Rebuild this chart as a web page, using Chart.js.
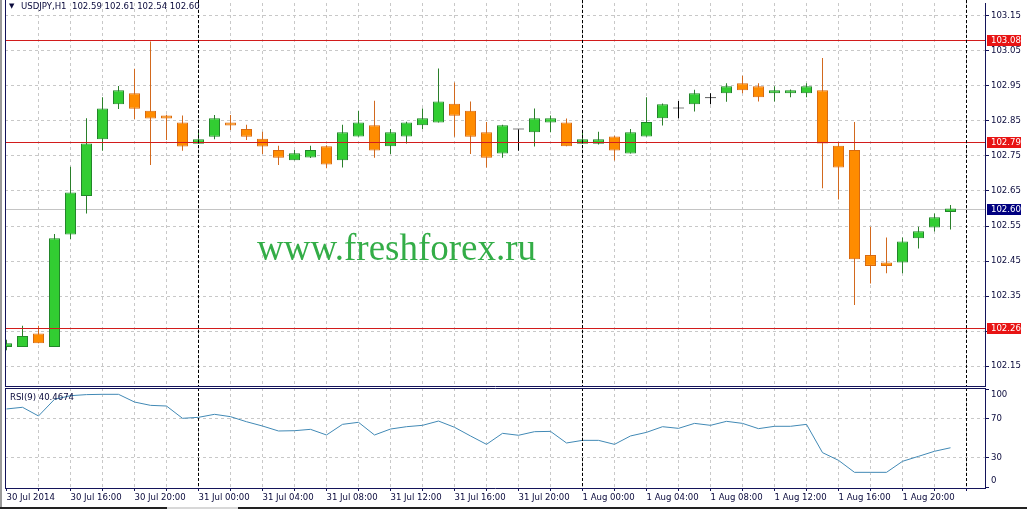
<!DOCTYPE html>
<html>
<head>
<meta charset="utf-8">
<title>USDJPY,H1</title>
<script src="https://cdn.jsdelivr.net/npm/chart.js@4.4.1/dist/chart.umd.min.js"></script>
<style>
  html, body { margin: 0; padding: 0; background: #fff; }
  #wrap { position: relative; width: 1027px; height: 509px; overflow: hidden; background: #fff; }
  canvas { position: absolute; left: 0; }
  #main { top: 0; }
  #rsi { top: 387px; }
  .txt { position: absolute; white-space: pre; color: #0a0a3c;
         font-family: 'DejaVu Sans Condensed', 'Liberation Sans', sans-serif; font-size: 9.5px; line-height: 12px; }
  #tri { left: 9px; top: 0; font-family: 'DejaVu Sans', sans-serif; font-size: 7px; }
  #head { left: 21px; top: 0; }
  #rsiLabel { left: 10px; top: 391px; }
  #mark { position: absolute; left: 257px; top: 229px; white-space: pre; color: #33ad47;
          font-family: 'Liberation Serif', 'Times New Roman', serif; font-size: 37px; line-height: 37px; }
  #edgeL { position: absolute; left: 0; top: 0; width: 2px; height: 509px; background: #9a9a9a; }
  #edgeB { position: absolute; left: 0; top: 507px; width: 1027px; height: 2px; background: #222; }
  #edgeTab { position: absolute; left: 167px; top: 507px; width: 71px; height: 2px; background: #d8d8d8; }
</style>
</head>
<body>
<div id="wrap">
  <canvas id="main" width="1027" height="387"></canvas>
  <canvas id="rsi" width="1027" height="122"></canvas>
  <div class="txt" id="tri">▼</div>
  <div class="txt" id="head">USDJPY,H1  102.59 102.61 102.54 102.60</div>
  <div class="txt" id="rsiLabel">RSI(9) 40.4674</div>
  <div id="mark">www.freshforex.ru</div>
  <div id="edgeL"></div>
  <div id="edgeB"></div>
  <div id="edgeTab"></div>
</div>
<script>
// hourly bars, 30 Jul 2014 12:00 .. 1 Aug 2014 23:00
const opens = [
  102.204, 102.204, 102.243, 102.204, 102.526, 102.636, 102.798, 102.898, 102.929, 102.879,
  102.866, 102.846, 102.785, 102.805, 102.846, 102.827, 102.799, 102.767, 102.738, 102.746,
  102.778, 102.738, 102.806, 102.838, 102.778, 102.806, 102.838, 102.846, 102.899, 102.879,
  102.818, 102.757, 102.826, 102.818, 102.846, 102.846, 102.785, 102.785, 102.806, 102.757,
  102.806, 102.858, 102.886, 102.898, 102.915, 102.929, 102.958, 102.949, 102.929, 102.929,
  102.929, 102.938, 102.779, 102.767, 102.467, 102.446, 102.446, 102.515, 102.546, 102.590
];
const highs = [
  102.225, 102.265, 102.265, 102.527, 102.719, 102.858, 102.918, 102.950, 102.999, 103.077,
  102.868, 102.866, 102.826, 102.867, 102.867, 102.839, 102.819, 102.779, 102.767, 102.779,
  102.781, 102.839, 102.879, 102.908, 102.827, 102.848, 102.886, 103.000, 102.960, 102.906,
  102.847, 102.839, 102.826, 102.886, 102.866, 102.857, 102.819, 102.819, 102.808, 102.827,
  102.918, 102.900, 102.907, 102.939, 102.929, 102.958, 102.979, 102.958, 102.949, 102.940,
  102.958, 103.030, 102.788, 102.847, 102.548, 102.517, 102.517, 102.548, 102.586, 102.610
];
const lows = [
  102.195, 102.204, 102.215, 102.204, 102.513, 102.586, 102.765, 102.884, 102.856, 102.724,
  102.796, 102.765, 102.785, 102.798, 102.824, 102.796, 102.756, 102.724, 102.738, 102.744,
  102.715, 102.717, 102.806, 102.745, 102.756, 102.786, 102.827, 102.846, 102.805, 102.756,
  102.717, 102.745, 102.765, 102.777, 102.818, 102.778, 102.785, 102.783, 102.737, 102.757,
  102.806, 102.837, 102.858, 102.877, 102.898, 102.905, 102.929, 102.906, 102.906, 102.918,
  102.918, 102.658, 102.626, 102.324, 102.386, 102.415, 102.415, 102.486, 102.534, 102.540
];
const closes = [
  102.215, 102.236, 102.215, 102.515, 102.646, 102.786, 102.886, 102.938, 102.885, 102.857,
  102.857, 102.777, 102.798, 102.858, 102.837, 102.805, 102.777, 102.745, 102.758, 102.767,
  102.726, 102.818, 102.846, 102.766, 102.818, 102.846, 102.858, 102.906, 102.865, 102.805,
  102.745, 102.838, 102.826, 102.858, 102.858, 102.778, 102.798, 102.798, 102.766, 102.818,
  102.847, 102.898, 102.886, 102.929, 102.915, 102.949, 102.938, 102.918, 102.938, 102.938,
  102.949, 102.786, 102.717, 102.455, 102.436, 102.436, 102.506, 102.535, 102.575, 102.600
];
const rsi = [
  80.3, 82.0, 73.1, 90.2, 93.9, 95.0, 95.3, 95.3, 87.4, 84.0,
  83.3, 70.7, 71.7, 74.8, 72.4, 67.2, 62.8, 57.7, 58.0, 59.4,
  53.6, 64.5, 66.6, 53.6, 59.7, 62.1, 63.5, 67.9, 61.5, 52.6,
  44.0, 55.3, 53.3, 57.0, 57.3, 45.4, 48.1, 48.1, 44.0, 52.6,
  56.3, 62.1, 60.4, 65.5, 63.5, 67.6, 65.5, 60.1, 62.5, 62.5,
  64.5, 35.5, 27.6, 15.3, 15.3, 15.3, 26.6, 31.7, 36.9, 40.5
];
const timeLabels = ['30 Jul 2014', '30 Jul 16:00', '30 Jul 20:00', '31 Jul 00:00', '31 Jul 04:00',
  '31 Jul 08:00', '31 Jul 12:00', '31 Jul 16:00', '31 Jul 20:00', '1 Aug 00:00', '1 Aug 04:00',
  '1 Aug 08:00', '1 Aug 12:00', '1 Aug 16:00', '1 Aug 20:00'];
const priceTicks = [102.15, 102.25, 102.35, 102.45, 102.55, 102.65, 102.75, 102.85, 102.95, 103.05, 103.15];
const rsiTicks = [0, 30, 70, 100];
const levels = [103.08, 102.79, 102.26];
const bidPrice = 102.60;
const daySeparators = [12, 36, 60];

// view window (16px per bar)
const X_MIN = -0.09375, X_MAX = 61.15625;
const Y_MIN = 102.0929, Y_MAX = 103.1871;
const RSI_MIN = -0.77, RSI_MAX = 101.79;

const FRAME = '#14145a';
const GRID = '#c8c8c8';
const TEXT = '#0a0a3c';
const FONT = { family: "'DejaVu Sans Condensed', 'Liberation Sans', sans-serif", size: 9.5 };
const FONT_CSS = "9.5px 'DejaVu Sans Condensed', 'Liberation Sans', sans-serif";

const idx = opens.map((_, i) => i);
const gridIdx = idx.concat([60]).filter((i) => i % 2 === 0);
const kind = idx.map((i) => closes[i] > opens[i] ? 1 : closes[i] < opens[i] ? -1 : 0);
const bodyFill = kind.map((k) => k > 0 ? '#32cd32' : k < 0 ? '#ff8c00' : '#000000');
const bodyEdge = kind.map((k) => k > 0 ? '#22862a' : k < 0 ? '#d86a10' : '#000000');
const wickColor = kind.map((k) => k > 0 ? '#2a7f2a' : k < 0 ? '#d2691e' : '#000000');

function vGridColor(ctx) {
  return ctx.tick && ctx.tick.value === 0 ? 'rgba(0,0,0,0)' : GRID;
}

// keep the plot area exactly where the layout padding puts it
function noLabelPadding(s) {
  s.paddingTop = 0;
  s.paddingBottom = 0;
  s.paddingLeft = 0;
  s.paddingRight = 0;
}

function dashedV(ctx, x, y0, y1) {
  ctx.save();
  ctx.strokeStyle = '#000';
  ctx.lineWidth = 1;
  ctx.setLineDash([3, 2]);
  ctx.beginPath();
  ctx.moveTo(x, y0);
  ctx.lineTo(x, y1);
  ctx.stroke();
  ctx.restore();
}

function line(ctx, x0, y0, x1, y1, color) {
  ctx.save();
  ctx.strokeStyle = color;
  ctx.lineWidth = 1;
  ctx.setLineDash([]);
  ctx.beginPath();
  ctx.moveTo(x0, y0);
  ctx.lineTo(x1, y1);
  ctx.stroke();
  ctx.restore();
}

function priceBox(ctx, y, text, bg) {
  ctx.save();
  ctx.fillStyle = bg;
  ctx.fillRect(987, Math.round(y) - 5, 34, 11);
  ctx.fillStyle = '#fff';
  ctx.font = FONT_CSS;
  ctx.textBaseline = 'middle';
  ctx.fillText(text, 991, Math.round(y) + 0.5);
  ctx.restore();
}

const mainDecor = {
  id: 'mainDecor',
  beforeDatasetsDraw(chart) {
    const { ctx, chartArea: a, scales: { y } } = chart;
    const by = Math.round(y.getPixelForValue(bidPrice)) + 0.5;
    line(ctx, a.left, by, a.right, by, '#c4c4c4');
  },
  afterDraw(chart) {
    const { ctx, chartArea: a, scales: { x, y } } = chart;
    levels.forEach((v) => {
      const py = Math.round(y.getPixelForValue(v)) + 0.5;
      line(ctx, a.left, py, a.right, py, '#d21c1c');
    });
    daySeparators.forEach((d) => {
      const px = Math.round(x.getPixelForValue(d) - 0.5) + 0.5;
      dashedV(ctx, px, 0, a.bottom);
    });
    line(ctx, a.left + 0.5, 0, a.left + 0.5, a.bottom + 1, FRAME);
    levels.forEach((v) => priceBox(ctx, y.getPixelForValue(v), v.toFixed(2), '#e81414'));
    priceBox(ctx, y.getPixelForValue(bidPrice), bidPrice.toFixed(2), '#000080');
  }
};

const rsiDecor = {
  id: 'rsiDecor',
  afterDraw(chart) {
    const { ctx, chartArea: a, scales: { x, y } } = chart;
    daySeparators.forEach((d) => {
      const px = Math.round(x.getPixelForValue(d) - 0.5) + 0.5;
      dashedV(ctx, px, a.top, a.bottom);
    });
    line(ctx, a.left + 0.5, a.top, a.left + 0.5, a.bottom + 1, FRAME);
    line(ctx, a.left, a.top + 0.5, a.right + 1, a.top + 0.5, FRAME);
    ctx.save();
    ctx.fillStyle = TEXT;
    ctx.font = FONT_CSS;
    ctx.textBaseline = 'middle';
    rsiTicks.forEach((v) => {
      const py = Math.min(Math.max(y.getPixelForValue(v), a.top + 7), a.bottom - 7);
      ctx.fillText(String(v), a.right + 6, py);
    });
    ctx.restore();
  }
};

new Chart(document.getElementById('main'), {
  type: 'bar',
  data: {
    datasets: [
      {
        label: 'body',
        data: idx.map((i) => ({ x: i, y: [opens[i], closes[i]] })),
        backgroundColor: bodyFill,
        borderColor: bodyEdge,
        borderWidth: 1,
        borderSkipped: false,
        grouped: false,
        maxBarThickness: 11,
        minBarLength: 1,
        inflateAmount: 0,
        order: 1
      },
      {
        label: 'wick',
        data: idx.map((i) => ({ x: i, y: [lows[i], highs[i]] })),
        backgroundColor: wickColor,
        borderWidth: 0,
        grouped: false,
        maxBarThickness: 1,
        inflateAmount: 0,
        order: 2
      }
    ]
  },
  options: {
    responsive: false,
    animation: false,
    events: [],
    layout: { padding: { left: 5, top: 3, right: 0, bottom: 1 } },
    plugins: { legend: { display: false }, tooltip: { enabled: false } },
    scales: {
      x: {
        type: 'linear', min: X_MIN, max: X_MAX, offset: false,
        afterBuildTicks: (s) => { s.ticks = gridIdx.map((v) => ({ value: v })); },
        afterFit: (s) => { s.height = 0; noLabelPadding(s); },
        ticks: { display: false },
        grid: { offset: false, color: vGridColor, drawTicks: false },
        border: { display: true, color: FRAME, dash: [3, 3] }
      },
      y: {
        type: 'linear', position: 'right', min: Y_MIN, max: Y_MAX,
        afterBuildTicks: (s) => { s.ticks = priceTicks.map((v) => ({ value: v })); },
        afterFit: (s) => { s.width = 42; noLabelPadding(s); },
        ticks: { callback: (v) => Number(v).toFixed(2), font: FONT, color: TEXT, padding: 2, autoSkip: false },
        grid: { color: GRID, tickColor: FRAME, tickLength: 4, tickBorderDash: [] },
        border: { display: true, color: FRAME, dash: [3, 3] }
      }
    }
  },
  plugins: [mainDecor]
});

new Chart(document.getElementById('rsi'), {
  type: 'line',
  data: {
    datasets: [{
      label: 'RSI(9)',
      data: idx.map((i) => ({ x: i, y: rsi[i] })),
      borderColor: '#4189b5',
      borderWidth: 1,
      pointRadius: 0,
      tension: 0,
      fill: false
    }]
  },
  options: {
    responsive: false,
    animation: false,
    events: [],
    layout: { padding: { left: 5, top: 1, right: 0, bottom: 0 } },
    plugins: { legend: { display: false }, tooltip: { enabled: false } },
    scales: {
      x: {
        type: 'linear', min: X_MIN, max: X_MAX, offset: false,
        afterBuildTicks: (s) => { s.ticks = gridIdx.map((v) => ({ value: v })); },
        afterFit: (s) => { s.height = 21; noLabelPadding(s); },
        ticks: {
          autoSkip: false, maxRotation: 0, minRotation: 0, align: 'start', padding: 1,
          font: FONT, color: TEXT,
          callback: (v) => (v % 4 === 0 && timeLabels[v / 4]) ? timeLabels[v / 4] : ''
        },
        grid: { offset: false, color: vGridColor, tickColor: FRAME, tickLength: 3, tickBorderDash: [] },
        border: { display: true, color: FRAME, dash: [3, 3] }
      },
      y: {
        type: 'linear', position: 'right', min: RSI_MIN, max: RSI_MAX,
        afterBuildTicks: (s) => { s.ticks = rsiTicks.map((v) => ({ value: v })); },
        afterFit: (s) => { s.width = 42; noLabelPadding(s); },
        ticks: { display: false },
        grid: {
          color: (c) => (c.tick && (c.tick.value === 30 || c.tick.value === 70)) ? GRID : 'rgba(0,0,0,0)',
          tickColor: FRAME, tickLength: 4, tickBorderDash: []
        },
        border: { display: true, color: FRAME, dash: [3, 3] }
      }
    }
  },
  plugins: [rsiDecor]
});
</script>
</body>
</html>
